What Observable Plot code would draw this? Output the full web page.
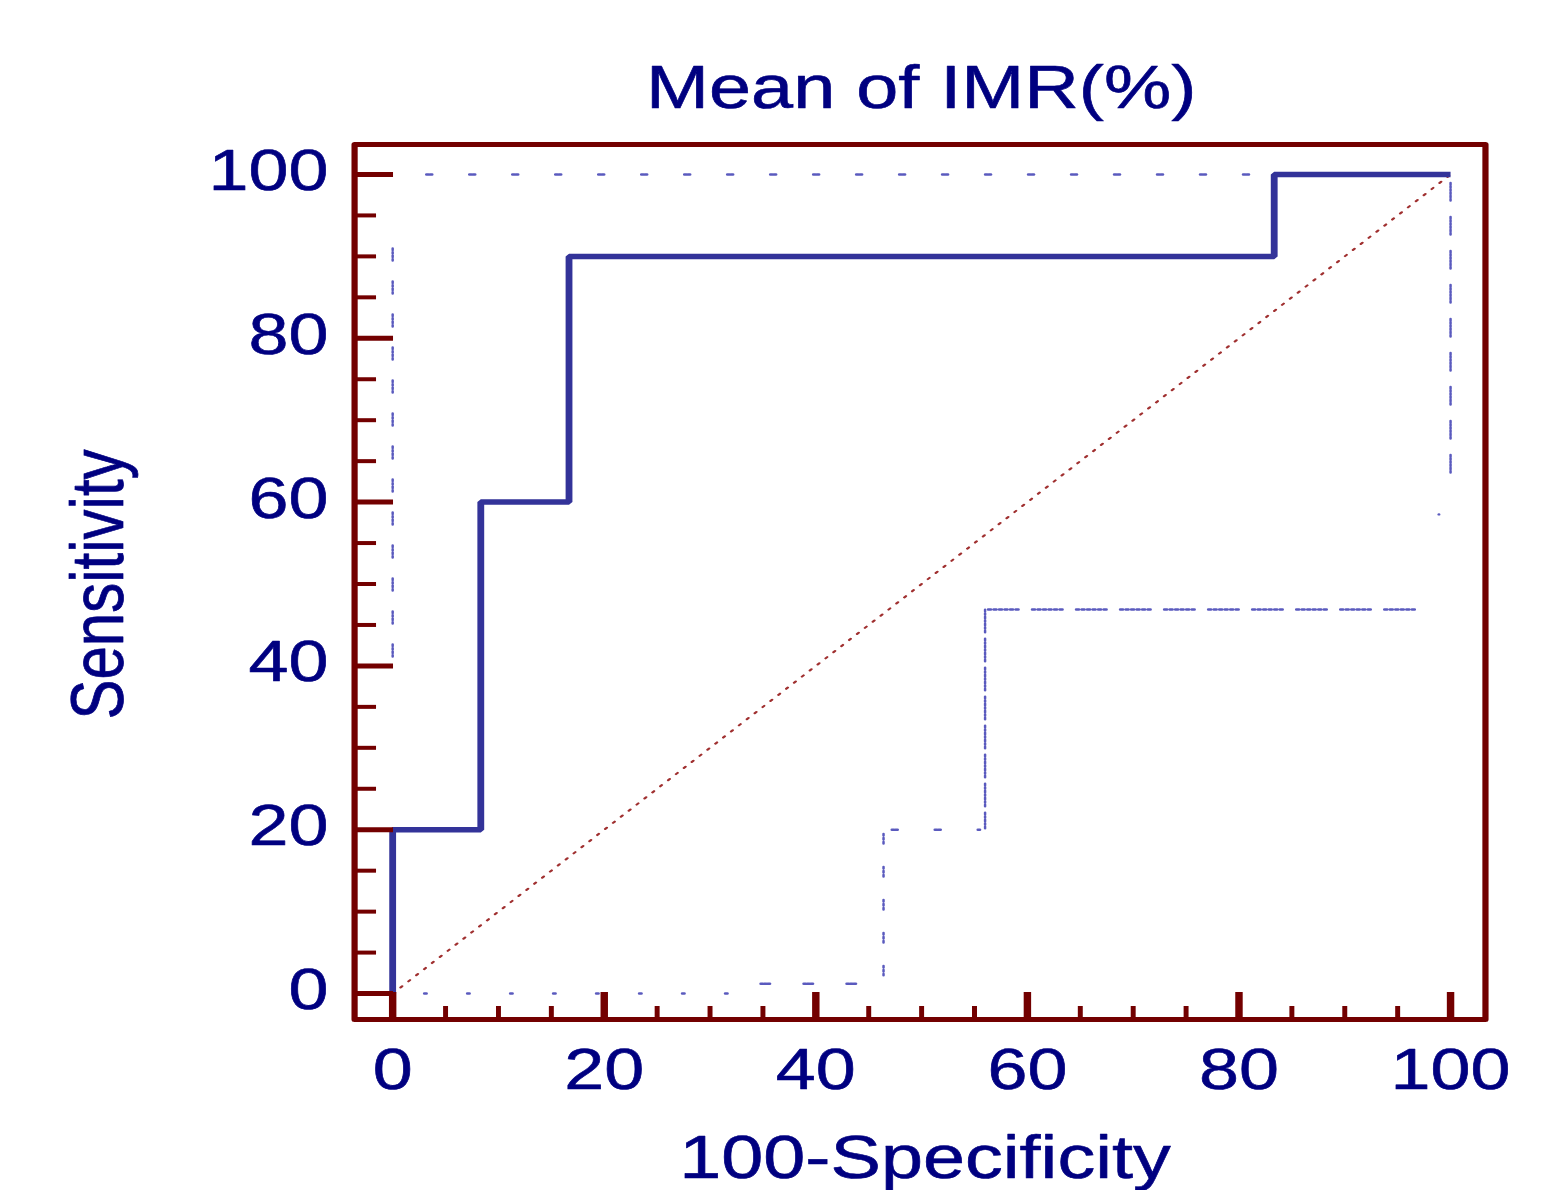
<!DOCTYPE html>
<html>
<head>
<meta charset="utf-8">
<script src="https://cdn.jsdelivr.net/npm/d3@7"></script>
<script src="https://cdn.jsdelivr.net/npm/@observablehq/plot@0.6"></script>
<style>
  html, body { margin: 0; padding: 0; background: #ffffff; }
  #chart svg { display: block; }
</style>
</head>
<body>
<div id="chart"></div>
<script>
// ---------------- data ----------------
const title = "Mean of IMR(%)";
const xLabel = "100-Specificity";
const yLabel = "Sensitivity";

const xTicks = [0, 20, 40, 60, 80, 100];
const yTicks = [0, 20, 40, 60, 80, 100];
const minorTicks = [5, 10, 15, 25, 30, 35, 45, 50, 55, 65, 70, 75, 85, 90, 95];

// ROC curve (100-Specificity, Sensitivity)
const rocFpr  = [0, 0, 8.33, 8.33, 16.67, 16.67, 83.33, 83.33, 100];
const rocSens = [0, 20, 20, 60, 60, 90, 90, 100, 100];

// reference diagonal
const diagonalFpr  = [0, 100];
const diagonalSens = [0, 100];

// confidence bounds, drawn as pieces
const upperBoundFpr  = [[0, 0], [3.2, 100]];
const upperBoundSens = [[91, 39], [100, 100]];

const lowerBoundFpr  = [[3, 32], [34.8, 45], [46.4, 46.4], [47.2, 55.5], [56, 56], [56.3, 97.9], [100, 100]];
const lowerBoundSens = [[0, 0], [1.2, 1.2], [19.5, 2.2], [20, 20], [46.9, 20], [46.9, 46.9], [99, 61.7]];

const strayFpr  = [98.9];
const straySens = [58.5];

// ---------------- styles ----------------
const S = 1.24;                       // horizontal stretch of the original picture
const W0 = Math.round(1561 / S);
const H = 1190;
const maroon = "#730000";
const navy = "#000080";
const rocBlue = "#333399";
const boundBlue = "#5a5abe";
const diagRed = "#a03030";
const font = "'Liberation Sans', Arial, sans-serif";

const hd = (arr) => arr.map(v => +(v / S).toFixed(2)).join(",");   // horizontal dash pattern

const upperPatterns = [
  {dash: "2,1.5,2,1.5,2,1.5,2,20.5", w: 2},
  {dash: hd([2, 1.5, 2, 37.5]), w: 2.5}
];
const lowerPatterns = [
  {dash: hd([2, 41]), w: 2.5},
  {dash: hd([2, 1.5, 2, 1.5, 2, 34]), w: 2.5},
  {dash: "2,2,2,2,2,23", w: 2},
  {dash: hd([2, 1.5, 2, 37.5]), w: 2.5},
  {dash: "2,1.5,2,1.5,2,1.5,2,1.5,2,1.5,2,1.5,2,6", w: 2},
  {dash: hd([2.5, 3, 2.5, 3, 2.5, 3, 2.5, 3, 2.5, 3, 2.5, 14]), w: 2.5},
  {dash: "2,1.2,2,1.2,2,1.2,2,1.2,2,1.2,2,16", w: 2}
];

const pts = (xs, ys) => xs.map((x, i) => [x, ys[i]]);

const boundMarks = [];
upperBoundFpr.forEach((xs, i) => {
  boundMarks.push(Plot.line(pts(xs, upperBoundSens[i]), {
    stroke: boundBlue, strokeWidth: upperPatterns[i].w, strokeDasharray: upperPatterns[i].dash
  }));
});
lowerBoundFpr.forEach((xs, i) => {
  boundMarks.push(Plot.line(pts(xs, lowerBoundSens[i]), {
    stroke: boundBlue, strokeWidth: lowerPatterns[i].w, strokeDasharray: lowerPatterns[i].dash
  }));
});

const marginLeft = 354 / S;
const marginRight = W0 - 1485 / S;

const textHeavy = {stroke: navy, strokeWidth: 0.6};

const chart = Plot.plot({
  width: W0,
  height: H,
  marginLeft,
  marginRight,
  marginTop: 144,
  marginBottom: 171,
  style: {background: "#ffffff", fontFamily: font, overflow: "visible"},
  x: {domain: [-3.6, 103.3], axis: null},
  y: {domain: [-3.17, 103.66], axis: null},
  marks: [
    ...boundMarks,
    Plot.dot(pts(strayFpr, straySens), {r: 1.2, fill: boundBlue, stroke: "none"}),
    Plot.line(pts(diagonalFpr, diagonalSens), {stroke: diagRed, strokeWidth: 2, strokeDasharray: "1.8,7"}),
    Plot.line(pts(rocFpr, rocSens), {stroke: rocBlue, strokeWidth: 5.5, strokeLinejoin: "miter", strokeLinecap: "butt"}),
    // y ticks (inward)
    Plot.axisY(minorTicks, {anchor: "left", tickSize: 17.8, dx: 17.8, stroke: maroon, strokeWidth: 4, fill: "none", label: null}),
    Plot.axisY(yTicks, {anchor: "left", tickSize: 31.5, dx: 31.5, stroke: maroon, strokeWidth: 5, fill: "none", label: null}),
    // x ticks (inward)
    Plot.axisX(minorTicks, {anchor: "bottom", tickSize: 13, dy: -13, stroke: maroon, strokeWidth: 4, fill: "none", label: null}),
    Plot.axisX(xTicks, {anchor: "bottom", tickSize: 27, dy: -27, stroke: maroon, strokeWidth: 6, fill: "none", label: null}),
    // tick labels
    Plot.axisY(yTicks, {anchor: "left", tickSize: 0, tickPadding: 21, dy: -3, fill: navy, fontSize: 58, label: null,
                        textStroke: navy, textStrokeWidth: 0.6}),
    Plot.axisX(xTicks, {anchor: "bottom", tickSize: 0, tickPadding: 28, fill: navy, fontSize: 58, label: null,
                        textStroke: navy, textStrokeWidth: 0.6}),
    Plot.frame({stroke: maroon, strokeWidth: 5, strokeLinejoin: "round"}),
    // titles
    Plot.text([title], {text: d => d, frameAnchor: "top", dy: -37, dx: 1, lineAnchor: "bottom", textAnchor: "middle", fontSize: 61, fill: navy, ...textHeavy}),
    Plot.text([xLabel], {text: d => d, frameAnchor: "bottom", dy: 158, dx: 4, lineAnchor: "bottom", textAnchor: "middle", fontSize: 61, fill: navy, ...textHeavy}),
    Plot.text([yLabel], {text: d => d, frameAnchor: "left", rotate: -90, dx: -187, dy: 2.5, lineAnchor: "bottom", textAnchor: "middle", fontSize: 60, fill: navy, ...textHeavy})
  ]
});

// stretch horizontally like the original picture
chart.setAttribute("viewBox", `0 0 ${W0} ${H}`);
chart.setAttribute("preserveAspectRatio", "none");
chart.setAttribute("width", 1561);
chart.setAttribute("height", H);
chart.style.width = "1561px";
chart.style.height = H + "px";
chart.style.maxWidth = "none";

document.getElementById("chart").appendChild(chart);
</script>
</body>
</html>
